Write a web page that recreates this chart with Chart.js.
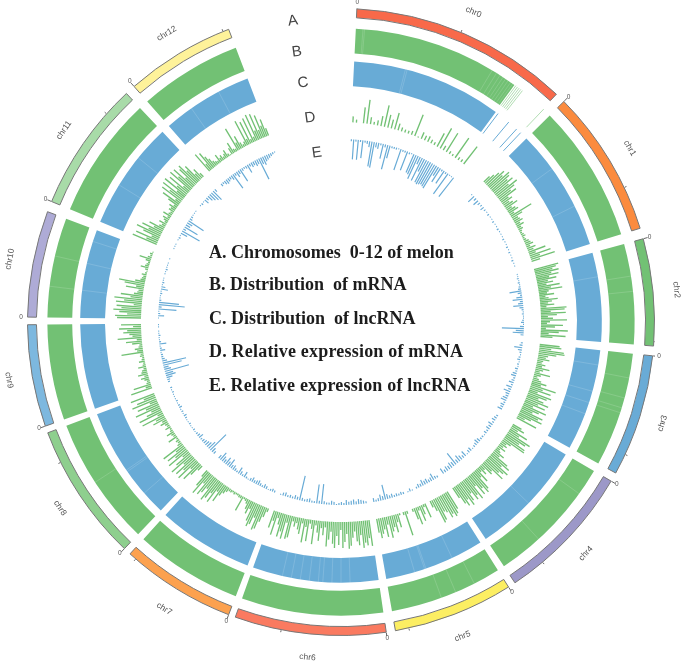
<!DOCTYPE html>
<html><head><meta charset="utf-8">
<style>html,body{margin:0;padding:0;background:#fff}canvas{display:block;filter:blur(0.45px)}</style>
<script src="https://cdn.jsdelivr.net/npm/chart.js@4"></script></head>
<body><canvas id="c" width="685" height="665"></canvas>
<script>
// chromosomes (arc extents, degrees clockwise from top)
const chrNames=['chr0','chr1','chr2','chr3','chr4','chr5','chr6','chr7','chr8','chr9','chr10','chr11','chr12'];
const chrStart=[2.9,45.3,74.6,96.2,120.5,147.7,171.7,201,223.7,250.6,270.9,292.6,318.7];
const chrEnd=[43.4,72.6,94.4,118.8,146.3,170,199.7,222.3,249.3,269.5,290.6,316.8,339];
const chrColors=['#F8694A','#FB8B3E','#72C174','#69ABD6','#9C98C8','#FCEE62','#FA7A60','#FCA14F','#8ECF8E','#7DB8DF','#AEABD6','#A8DBA8','#FEF29A'];
const midTicks=[22.5,64.6,93.6,115,140,167.5,191,220.9,243.4,311.6,337.9];
// ring B / C: mRNA and lncRNA coverage
const coverEndChr0B=36.2, coverEndChr0C=36.4;
const stripesB=[4.3,4.6,31,32,32.8,33.5,34.1,34.7,35.3,35.8,81,84,101,105,107,108,125.8,137.7,153,157,160,236.9,277,283];
const stripesC=[14.3,14.7,54,63.6,80,99.5,105.4,108,110.6,134,154.8,161,161.3,163.6,178,180,182,184,185,187,189,191,193,229,235,235.4,277,283,288,301.7,309,325,332];
const sparseB=[36.5,36.9,37.3,37.7,38.1,43.6];
const sparseC=[37,40,42.3,43.5];
// ring D: relative expression of mRNA, per chromosome
const exprMRNA=[
[6,3,0,16,24,7,3,5,10,22,13,9,17,7,4,3,3,4,23,1,7,5,6,4,3,15,23,5,22,3,2,24,3,3,22,0,0,0,0,0],
[8,12,17,22,18,25,23,19,24,17,26,21,15,20,9,12,7,10,14,6,9,11,5,24,12,6,7,9,5,8,4,5,3,2,3,4,2,3,5,6,8,4,9,6,18,7,22,10,25,9],
[25,22,18,24,16,23,13,20,11,16,9,22,13,24,10,8,15,6,9,18,12,8,14,6,26,24,10,25,16,7,12,26,9,6,22,14,5,27,18,8,25,12],
[20,22,12,25,26,18,10,8,12,6,5,9,6,14,8,5,16,7,4,6,9,15,10,26,13,22,9,24,20,12,18,24,14,22,10,25,18,12,24,20,25,14,8,22],
[10,14,8,20,12,26,22,16,24,25,10,6,8,5,9,4,6,12,8,20,24,16,26,22,18,25,12,14,6,10,5,16,9,22,25,18,24,12,26,20,24,15,22,26,18,24,20,12],
[20,24,26,22,25,18,16,24,26,12,7,0,0,15,3,10,16,4,18,12,3,0,0,3,25,3,0,2,14,8,18,12,16,22,8,20,12,16,20,14],
[26,18,25,22,27,14,24,20,10,16,24,27,12,20,26,8,23,14,26,22,10,18,25,6,14,7,20,12,5,24,9,4,22,8,24,5,16,12,6,10,5,22,24,8,25,18,24,12,6,24,10,18],
[4,10,16,24,26,14,22,25,20,8,14,10,5,3,2,16,3,3,2,2,3,2,3,3,5,8,12,20,10,24,15,22,26,14,20,24,12,26,18,8],
[6,14,22,10,25,16,24,12,26,18,8,24,14,22,10,24,5,3,4,2,10,3,4,8,3,2,6,3,4,8,5,14,10,24,6,25,16,10,26,14,22,8,26,20,12,25],
[22,6,18,4,3,5,8,4,10,6,5,3,8,3,2,6,3,2,4,3,22,6,8,4,3,10,16,5,24,9,12,18,14,22,8,20],
[24,26,14,22,28,20,25,8,26,18,28,12,22,9,6,5,18,8,20,26,10,5,4,3,5,2,1,3,8,4,3,2,5,12,4,2,3,1],
[26,12,24,8,18,26,14,22,10,16,6,4,8,3,5,7,3,9,4,3,6,5,8,4,12,20,6,24,16,26,10,27,13,24,8,27,18,26,12,22,25,16,20,8,12,5],
[22,8,20,14,10,6,4,3,9,4,6,3,5,8,3,1,7,12,4,3,25,8,14,6,3,5,27,6,24,4,26,5,28,10,27,9,24,12,18,8]
];
// ring E: relative expression of lncRNA, per chromosome
const exprLnc=[
[2,20,2,20,2,18,2,3,6,25,26,5,6,2,15,3,25,13,2,2,2,1,22,2,2,20,2,1,20,21,25,8,25,14,25,26,25,24,25,26,10,16,2,15,2,25,1,1,24,0,0,0,0,0,0,0],
[1,8,3,6,3,2,4,2,1,2,1,1,2,1,1,2,1,1,1,2,1,1,2,1,2,1,1,2,1,1],
[1,1,2,1,2,1,2,3,12,4,2,6,10,3,5,10,4,2,1,2,1,1,2,3,1,4,22,8,11,3],
[2,3,8,4,2,1,2,3,1,2,1,3,2,4,5,2,3,5,2,6,3,7,4,3,5,6,2,4,3,5],
[2,3,4,2,5,3,4,2,3,1,2,2,4,5,3,2,1,4,3,1,6,3,5,7,4,14,5,6,4,5,3,6],
[2,3,7,4,3,5,4,6,3,4,2,0,1,3,1,0,2,3,2,3,2,4,3,5,15,4,6,3,2,4],
[2,3,4,5,3,5,4,3,5,2,3,2,1,3,4,2,2,3,20,3,19,2,2,4,3,2,3,25,3,4,2,3,2,4,3,1],
[2,3,2,1,3,4,2,3,5,4,3,5,3,1,2,6,2,4,7,2,3,5,4,9,5,8,4,6,9,4],
[3,5,22,9,6,5,4,3,2,5,3,2,1,2,1,1,2,1,1,2,3,1,2,1,3,2,1,2,1,1,1,2,1,2],
[2,3,6,10,8,25,7,5,19,24,5,3,2,2,1,5,2,1,7,2,1,1,2,1,1,0,1,1],
[1,6,2,1,18,3,26,20,2,1,1,2,1,7,4,1,2,1,1,0,1,1,2,1,1,1,0,1],
[0,1,1,1,0,1,2,1,7,20,3,15,5,6,18,3,2,1,1,1,0,0,1,2,1,5,3,6,8,10,12,3],
[3,2,4,5,4,3,5,17,3,6,4,14,3,2,3,9,3,5,4,6,5,23,7,9,6,5,4,3,2,1]
];
const trackLetters=['A','B','C','D','E'];
const legendLines=['A. Chromosomes  0-12 of melon','B. Distribution  of mRNA','C. Distribution  of lncRNA','D. Relative expression of mRNA','E. Relative expression of lncRNA'];

// layout constants
const GREEN='#72C174',BLUE='#68ABD6';
const R=314,CX=341,CY=322,W=685,H=665;
const rad=d=>d*Math.PI/180;
const pt=(deg,r)=>({x:r*Math.sin(rad(deg)),y:r*Math.cos(rad(deg))});
const gapPt={x:NaN,y:NaN};
const seg=(list,r0,r1)=>list.flatMap(a=>[pt(a,r0),pt(a,r1),gapPt]);
function ringData(firstEnd){
  const out=[];
  chrStart.forEach((s,i)=>{
    const end=(i===0&&firstEnd)?firstEnd:chrEnd[i];
    const next=i<12?chrStart[i+1]:chrStart[0]+360;
    out.push(end-s,next-end);
  });
  return out;
}
const alt=(c)=>chrStart.flatMap((_,i)=>[c(i),'rgba(0,0,0,0)']);
function arcSet(data,color,weight,extra){
  return Object.assign({type:'doughnut',data,backgroundColor:color,weight,rotation:chrStart[0],
    circumference:360,cutout:236,borderWidth:0,order:5},extra||{});
}
const spacer=w=>({type:'doughnut',data:[1],backgroundColor:'rgba(0,0,0,0)',weight:w,cutout:236,borderWidth:0,order:6});
function bars(series,base,sign){
  const pts=[];
  series.forEach((vals,i)=>{
    const step=(chrEnd[i]-chrStart[i])/vals.length;
    vals.forEach((v,j)=>{
      if(!v)return;
      const a=chrStart[i]+(j+.5)*step;
      pts.push(pt(a,base),pt(a,base+sign*v),gapPt);
    });
  });
  return pts;
}
function lineSet(data,color,width){
  // a solid "dash" keeps Chart.js off its fast line path, which merges nearly vertical runs
  return {type:'scatter',data,showLine:true,borderColor:color,borderWidth:width,borderDash:[2000,0],pointRadius:0,weight:0,order:1,spanGaps:false,tension:0};
}

const textPlugin={id:'texts',afterDraw(chart){
  const {ctx,scales:{x,y}}=chart;
  const at=(deg,r)=>{const p=pt(deg,r);return [x.getPixelForValue(p.x),y.getPixelForValue(p.y)];};
  ctx.save();ctx.textAlign='center';ctx.textBaseline='middle';
  ctx.fillStyle='#555';ctx.font='8.5px "Liberation Sans"';
  chrNames.forEach((n,i)=>{
    const m=(chrStart[i]+chrEnd[i])/2;const [px,py]=at(m,337);
    let rot=m; if(m>90&&m<270)rot=m-180;
    ctx.save();ctx.translate(px,py);ctx.rotate(rad(rot));ctx.fillText(n,0,0);ctx.restore();
  });
  ctx.font='6.5px "Liberation Sans"';
  chrStart.forEach(s=>{const [px,py]=at(s,320);ctx.fillText('0',px,py);});
  ctx.fillStyle='#444';ctx.font='15px "Liberation Sans"';
  const lx=[293,297,303,310,317],ly=[21,52,83,118,153];
  trackLetters.forEach((t,i)=>{ctx.save();ctx.translate(lx[i],ly[i]);ctx.rotate(rad(-8));ctx.fillText(t,0,0);ctx.restore();});
  ctx.textAlign='left';ctx.textBaseline='alphabetic';ctx.fillStyle='#1c1c1c';ctx.font='bold 18px "Liberation Serif"';
  const by=[258,290,324,357,391],sp=['0px','0px','0px','0.2px','0.2px'];
  legendLines.forEach((t,i)=>{ctx.letterSpacing=sp[i];ctx.fillText(t,209,by[i]);});
  ctx.letterSpacing='0px';
  ctx.restore();
}};

new Chart(document.getElementById('c'),{
  type:'scatter',
  data:{datasets:[
    arcSet(ringData(),alt(i=>chrColors[i]),9,{borderColor:alt(()=> '#777'),borderWidth:chrStart.flatMap(()=>[1,0])}),
    spacer(11),
    arcSet(ringData(coverEndChr0B),alt(()=>GREEN),25),
    spacer(8),
    arcSet(ringData(coverEndChr0C),alt(()=>BLUE),25),
    lineSet(bars(exprMRNA,200,1),GREEN,1.35),
    lineSet(bars(exprLnc,183,-1),BLUE,1.2),
    lineSet(seg(stripesB,269,294),'rgba(255,255,255,.15)',1),
    lineSet(seg(stripesC,236,261),'rgba(255,255,255,.15)',1),
    lineSet(seg(sparseB,269,294),'rgba(114,193,116,.55)',1),
    lineSet(seg(sparseC,236,261),BLUE,1),
    lineSet(seg(chrStart,314,318),'#666',1),
    lineSet(seg(midTicks,314,316),'#666',1)
  ]},
  options:{
    responsive:false,animation:false,
    layout:{padding:{left:CX-R,right:W-CX-R,top:CY-R,bottom:H-CY-R}},
    plugins:{legend:{display:false},tooltip:{enabled:false}},
    scales:{
      x:{type:'linear',display:false,min:-R,max:R},
      y:{type:'linear',display:false,min:-R,max:R}
    }
  },
  plugins:[textPlugin]
});
</script></body></html>
